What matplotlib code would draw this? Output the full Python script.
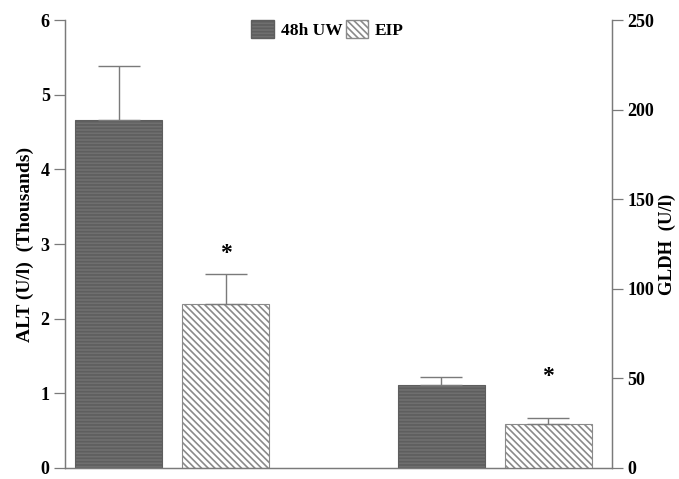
import numpy as np
import matplotlib.pyplot as plt
from matplotlib.patches import Patch

plt.rcParams['font.family'] = ['Liberation Serif', 'DejaVu Serif']
plt.rcParams['font.weight'] = 'bold'
plt.rcParams['hatch.linewidth'] = 1.2

series = ["48h UW", "EIP"]
alt_mean = [4.66, 2.20]      # thousands U/l
alt_err = [0.73, 0.40]
gldh_mean = [46.3, 24.5]     # U/l
gldh_err = [4.5, 3.4]
stars = [False, True]

grey = "#7a7a7a"
dark = "#6f6f6f"

fig = plt.figure(figsize=(6.79, 4.79), dpi=100)
ax = fig.add_axes([0.0957, 0.023, 0.8056, 0.935])
ax2 = ax.twinx()

width = 1.0
offset = 0.615
groups = np.array([0.0, 3.71])
styles = [dict(facecolor=dark, edgecolor="#5e5e5e", hatch="-----"),
          dict(facecolor="white", edgecolor="#8a8a8a", hatch="\\\\\\\\\\")]
star_off = [15, 30]

for i, (axis, means, errs) in enumerate([(ax, alt_mean, alt_err), (ax2, gldh_mean, gldh_err)]):
    for j in range(2):
        x = groups[i] + (2 * j - 1) * offset
        axis.bar(x, means[j], width, linewidth=0.8, **styles[j])
        axis.errorbar(x, means[j], yerr=[[0], [errs[j]]], fmt="none",
                      ecolor=grey, elinewidth=1.0, capsize=15, capthick=1.0)
        if stars[j]:
            axis.annotate("*", (x, means[j] + errs[j]), xytext=(0, star_off[i]),
                          textcoords="offset points", ha="center", va="center",
                          fontsize=17, fontweight="bold")

ax.set_xlim(groups[0] - 2 * offset, groups[1] + offset + 0.73)
ax.set_ylim(0, 6)
ax2.set_ylim(0, 250)
ax.set_yticks(range(0, 7))
ax2.set_yticks(range(0, 251, 50))
ax.set_xticks([])

for a in (ax, ax2):
    for s in a.spines.values():
        s.set_color(grey)
        s.set_linewidth(0.9)
    a.spines["top"].set_visible(False)
    a.tick_params(axis="y", length=8, width=0.9, color=grey, labelsize=13, pad=3)

ax.set_ylabel("ALT (U/l)  (Thousands)", fontsize=14, fontweight="bold", labelpad=5)
ax2.set_ylabel("GLDH  (U/l)", fontsize=13.5, fontweight="bold", labelpad=3)

handles = [Patch(**styles[0], label=series[0]), Patch(**styles[1], label=series[1])]
ax.legend(handles=handles, loc="upper center", bbox_to_anchor=(0.48, 1.035), ncol=2,
          frameon=False, fontsize=12.5, handlelength=1.3, handleheight=1.2,
          columnspacing=0.2, handletextpad=0.4)

fig.savefig("out.png", dpi=100)
